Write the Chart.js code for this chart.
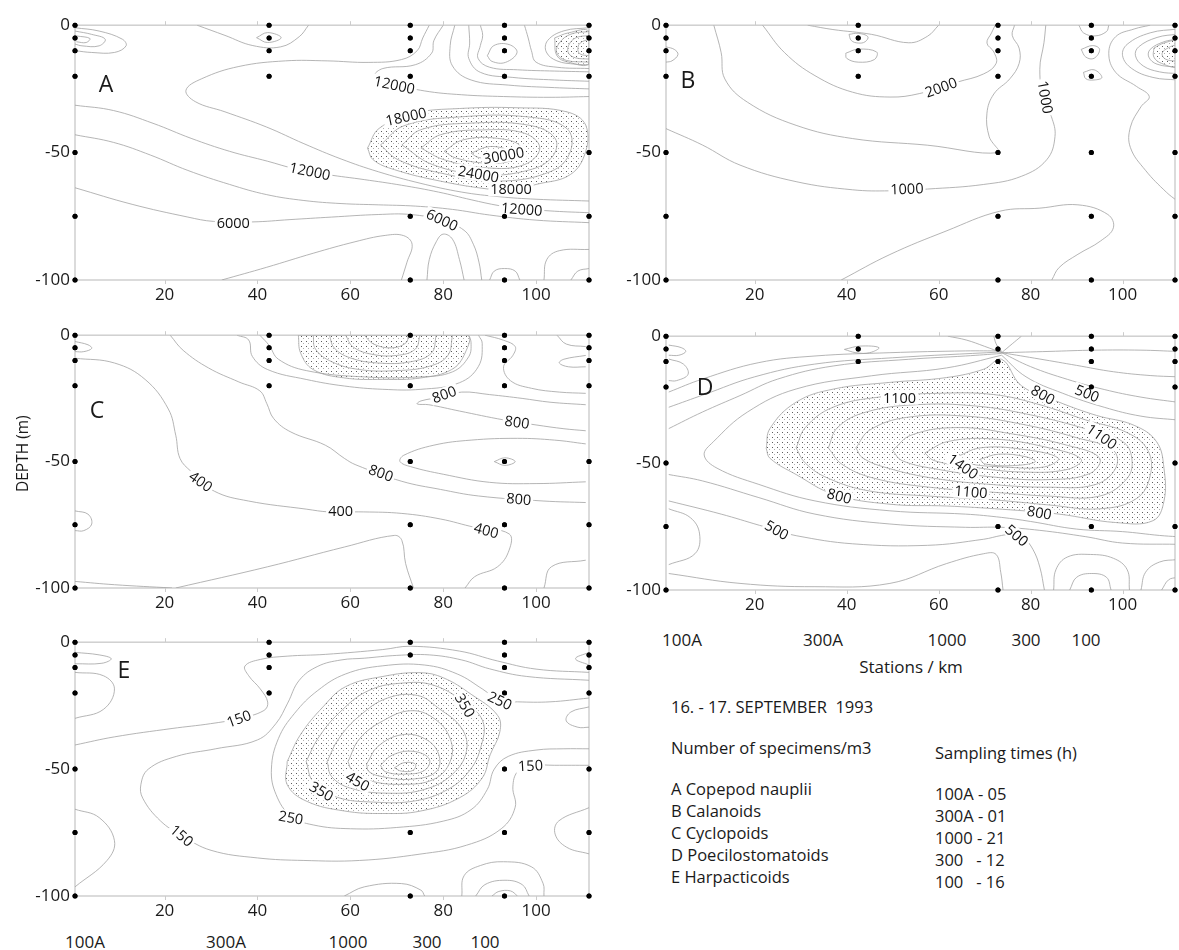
<!DOCTYPE html>
<html>
<head>
<meta charset="utf-8">
<script src="https://cdn.jsdelivr.net/npm/chart.js@4.4.1/dist/chart.umd.min.js"></script>
<style>
  html, body { margin: 0; padding: 0; background: #fff; }
  body { width: 1179px; height: 950px; position: relative; overflow: hidden; font-family: 'Open Sans', sans-serif; color: #1a1a1a; }
  .panel { position: absolute; }
  .txt { position: absolute; font-size: 16px; line-height: 20px; white-space: pre; }
  .mid { transform: translateX(-50%); }
  .letter { position: absolute; font-size: 23px; line-height: 26px; transform: translate(-50%, -50%); }
</style>
</head>
<body>
<script>
// ---- axes / stations ----
const stations = [0.7, 42.5, 72.9, 93.2, 111.4];
const xTicks = [20, 40, 60, 80, 100];
const yTicks = [0, -50, -100];
const stationNames = ['100A', '300A', '1000', '300', '100'];
const taxa = ['A Copepod nauplii', 'B Calanoids', 'C Cyclopoids', 'D Poecilostomatoids', 'E Harpacticoids'];
const samplingTimes = ['100A - 05', '300A - 01', '1000 - 21', '300   - 12', '100   - 16'];

// sampled depths per station (m)
const samplesA = [[0,-5,-10,-20,-50,-75,-100],[0,-5,-10,-20],[0,-5,-10,-20,-75,-100],[0,-5,-10,-20,-75,-100],[0,-5,-10,-20,-50,-75,-100]];
const samplesB = [[0,-5,-10,-20,-50,-75,-100],[0,-5,-10,-20],[0,-5,-10,-20,-50,-75,-100],[0,-5,-10,-20,-50,-75,-100],[0,-5,-10,-20,-50,-75,-100]];
const samplesC = [[0,-5,-10,-20,-50,-75,-100],[0,-5,-10,-20],[0,-20,-50,-75,-100],[0,-5,-10,-20,-50,-75,-100],[0,-5,-10,-20,-50,-75,-100]];
const samplesD = [[0,-5,-10,-20,-50,-75,-100],[0,-5,-10],[0,-5,-10,-75,-100],[0,-5,-10,-20,-75,-100],[0,-5,-10,-20,-50,-75,-100]];
const samplesE = [[0,-5,-10,-20,-50,-75,-100],[0,-5,-10,-20],[0,-5,-75,-100],[0,-5,-10,-20,-50,-75,-100],[0,-5,-10,-20,-50,-75,-100]];

// ---- A Copepod nauplii ----
const contoursA = [
  [[0.7,-1],[5.9,-2.3],[10.9,-5.5],[11.7,-8.1],[9.2,-10.7],[4.3,-10.7],[0.7,-10]],
  [[0.7,-2.3],[4.3,-3.6],[7.2,-5.5],[5.9,-8.1],[2.2,-8.1],[0.7,-7.4]],
  [[1,-4.2],[3.9,-5.2],[3.1,-6.8],[1,-6.5]],
  [[27,0],[33,-4],[39,-8],[45,-8.5],[49,-4.5],[51,0]],
  [[39.8,-4.9],[42.2,-2.9],[45.1,-4.9],[42.2,-6.8],[39.8,-4.9]],
  [[77,0],[75.6,-5],[74.4,-10],[71,-13.5],[64,-14.6],[55,-14],[46,-14],[36,-16.2],[28,-21],[24.6,-25.5],[26.6,-30],[33,-34],[42,-40],[50,-46.5],[58,-52.5],[66,-57.5],[75,-62],[84,-65.5],[92,-67.3],[100,-68.3],[111.4,-69]],
  [[80,0],[78,-6],[77.5,-11],[74,-15.5],[67,-17],[65.3,-19.8],[69.5,-23],[76,-25.8],[84,-27.3],[93,-28],[103,-28.3],[111.4,-28]],
  [[82.5,0],[81.5,-8],[82,-16],[86,-21.5],[94,-23.5],[104,-24.5],[111.4,-25]],
  [[85.5,0],[85.7,-7],[85.5,-13],[88,-18.5],[95,-20.5],[104,-21.5],[111.4,-22]],
  [[88,0],[88.5,-4],[88,-8],[87.5,-13],[90,-16.5],[96,-17.5],[104,-18],[111.4,-18.3]],
  [[89.5,-12],[90.9,-8],[94.2,-7.6],[95.9,-10.7],[93.4,-14.6],[90.5,-14.2],[89.5,-12]],
  [[97.5,0],[98.3,-5],[99,-10],[100,-14.5],[104.5,-16.5],[111.4,-17]],
  [[111.4,-1],[106,-2.2],[102.5,-6],[102.2,-10.5],[104.5,-14],[108.5,-15.3],[111.4,-15.5]],
  [[111.4,-2.5],[107.5,-3.5],[105,-7],[104.5,-11],[106.5,-13.8],[111.4,-14.5]],
  [[111.4,-4],[108.5,-5],[107,-8],[107,-11],[108.5,-12.8],[111.4,-13.3]],
  [[111.4,-5.5],[109.5,-7],[109,-9.5],[109.5,-11.3],[111.4,-12]],
  [[0.7,-31.4],[9,-33.5],[17.5,-38.5],[25.7,-44.4],[34,-49.5],[42.2,-53.4],[48,-56.3],[55,-58.6],[63,-60.6],[71,-62.8],[79,-65.5],[86,-68.5],[92,-70.8],[97,-72],[104,-73],[111.4,-73.6]],
  [[0.7,-43],[9,-46],[17,-51],[25,-57],[34,-62.5],[42,-66.5],[50,-68.8],[58,-70],[66,-70.5],[74,-71],[82,-72.3],[90,-74.5],[100,-76.5],[111.4,-77.5]],
  [[0.7,-63.8],[13,-70.3],[25,-75.3],[30.5,-77],[39,-77.2],[47,-76.3],[56,-75.3],[66,-74.3],[73,-74.3],[79.8,-76.6],[84.5,-80.5],[86.5,-86],[87.7,-93],[88.3,-100]],
  [[32.3,-100],[42,-95],[52,-89.5],[61,-85],[67.5,-82.5],[71.5,-82.6],[73.3,-86],[72.2,-93],[71,-100]],
  [[76.5,-100],[77,-92],[78.5,-85],[80,-82],[82,-84],[83.5,-92],[84.5,-100]],
  [[90,-100],[91,-96.5],[93.2,-95.5],[95.5,-96.5],[96.5,-100]],
  [[101.7,-100],[102.3,-92],[105,-88.5],[111.4,-88]],
  [[107.5,-100],[109,-96.5],[111.4,-95.5]],
  [[66.5,-47],[71.5,-39.5],[83.5,-36],[98.3,-36],[106.6,-40.5],[107.4,-49.5],[103.3,-57.3],[91.7,-61.2],[79.4,-58],[70.3,-52.8],[66.5,-47]],
  [[71.1,-47],[75.2,-41],[85.1,-38.5],[98.3,-39.2],[104.1,-44.4],[103.3,-52.1],[97.5,-57.3],[88.4,-58.6],[77.7,-54.7],[71.1,-47]],
  [[75.2,-48.2],[79.4,-43],[88.4,-41.1],[97.5,-42.4],[100.8,-48.2],[97.5,-54.7],[89.3,-56],[80.2,-52.8],[75.2,-48.2]],
  [[80.2,-49.5],[84.3,-45],[91.7,-44.4],[96.7,-47.6],[95,-52.8],[89.3,-54.1],[82.7,-52.1],[80.2,-49.5]],
  [[86,-50.2],[90.1,-47.6],[94.2,-49.5],[91.7,-52.1],[87.6,-51.9],[86,-50.2]]
];
const shadedA = [
  [[63.7,-48.2],[66.2,-40.5],[73.6,-34.6],[83.5,-32.7],[95.9,-32.4],[106.6,-34],[110.7,-39.2],[110.7,-49.5],[107.4,-58.6],[100,-62.5],[94.6,-64.7],[90.1,-64.4],[79.4,-61.2],[69.5,-56.7],[64.9,-52.8],[63.7,-48.2]],
  [[104,-5],[107,-3],[111.4,-2.5],[111.4,-15],[107,-14.5],[104.5,-12],[104,-5]]
];
const labelsA = [
  ['12000', 69.5, -23.4, 12], ['18000', 72, -35.9, -12], ['12000', 51.3, -57.3, 12],
  ['30000', 93, -51.1, -10], ['24000', 87.6, -58.4, 10], ['18000', 94.6, -64.4, 0],
  ['12000', 96.9, -72.2, 4], ['6000', 34.8, -77.4, 0], ['6000', 79.8, -76.4, 25]
];

// ---- B Calanoids ----
const contoursB = [
  [[0.7,-40.6],[8.6,-47],[16.8,-54.9],[29,-61.4],[41.3,-64.6],[49.4,-65],[57.6,-64.3],[69.8,-62.5],[78,-59.3],[83.5,-52.8],[85.3,-43.7],[84.5,-35.8],[82.9,-30.6],[82,-17.3],[82.9,-6.9],[83.3,0]],
  [[11.1,0],[12.7,-10.8],[13.5,-21.1],[18.4,-30.2],[29,-39.3],[41.3,-44.5],[57.6,-47.1],[72.9,-50],[71,-43.8],[70.5,-34.5],[72,-27],[75.5,-21],[77.5,-15],[77.5,-9],[76,-4],[76.5,0]],
  [[21.7,0],[26.5,-10.8],[33.1,-19.8],[41.3,-26.3],[49.4,-28.2],[55.9,-26.8],[64.1,-22.3],[69.8,-19.1],[72.5,-15],[72,-10.5],[70.5,-7],[71.5,-3],[72.3,0]],
  [[31.5,0],[37,-1.7],[45.4,-3.6],[53.5,-6.9],[57.6,-4.3],[60,0]],
  [[40.5,-3.6],[42.5,-3.2],[44.6,-4.5],[44,-6.5],[42.5,-7],[41,-6],[40.5,-3.6]],
  [[39.8,-11],[42.5,-9.4],[46.5,-10.5],[46,-13.5],[42.5,-14.5],[40,-13],[39.8,-11]],
  [[0.7,-8.5],[2.5,-9.5],[3.3,-11.5],[2,-14],[0.7,-14.5]],
  [[38.8,-100],[49.4,-90],[61.6,-80.8],[73.3,-73],[82,-71.8],[90.3,-70.5],[96.8,-74.3],[98,-79.5],[95.2,-84.7],[90.3,-89.9],[86.2,-95.1],[84.6,-100]],
  [[111.9,-69],[109.5,-65.5],[105,-57],[101.7,-48],[101.7,-40],[104,-32],[105.8,-28],[103,-24],[98.5,-18.5],[97,-11],[98.5,-4.5],[102.5,-1.5],[106,0]],
  [[111.9,-1.5],[106,-3],[101,-7.5],[100,-12],[102,-17],[106.6,-20.5],[111.9,-21.5]],
  [[111.9,-3.5],[107.5,-4.8],[103.5,-8.5],[102.8,-12],[104.5,-16],[108,-18.3],[111.9,-19]],
  [[111.9,-5.5],[109,-6.5],[106,-9.5],[105.7,-12.5],[107.5,-15.3],[111.9,-16.5]],
  [[111.9,-7.5],[110,-8.8],[108.6,-11],[109.3,-13.3],[111.9,-14.2]],
  [[90.5,0],[91.5,-3],[94,-4.2],[96.5,-2.5],[97,0]],
  [[91,-9.5],[93.5,-8],[95,-9.5],[93.8,-13],[92,-12.5],[91,-9.5]],
  [[91.5,-18.5],[93.8,-17.5],[95.5,-20.5],[93.8,-21.5],[92,-21],[91.5,-18.5]]
];
const shadedB = [
  [[106.8,-9],[109,-7],[111.9,-6.5],[111.9,-16],[108.5,-15],[106.8,-12.5],[106.8,-9]]
];
const labelsB = [
  ['2000', 60.5, -24.4, -20], ['1000', 53.1, -64.2, -2], ['1000', 83.2, -28.3, 80]
];

// ---- C Cyclopoids ----
const contoursC = [
  [[0.7,-9.1],[9.2,-11],[15.8,-17.5],[20.8,-29.2],[22.4,-39.6],[23.3,-48.7],[25.7,-53.9],[30.7,-61.7],[38.1,-65.6],[50.5,-68.8],[55.4,-69.9],[62.9,-69.9],[71.1,-70.5],[79.4,-72.7],[86.8,-76],[94.2,-78.6],[94.2,-85],[91.7,-91.6],[86.8,-95.5],[84.7,-100]],
  [[21.2,0],[24,-6],[29.5,-13],[36,-18.5],[40.5,-22],[42,-27],[43.5,-33],[47.2,-38.3],[54.6,-43.5],[58.7,-48.7],[61.2,-51.3],[71.1,-57.8],[79.4,-61],[87.6,-63.6],[101.7,-65.6],[110.7,-66.2]],
  [[35.6,0],[38.1,-1.9],[38.9,-8.4],[42.2,-13.6],[50.5,-17.5],[58.7,-20.1],[67,-21.4],[75.2,-21.4],[83.5,-18.8],[87.6,-12.3],[88.4,-3.2],[87.6,0]],
  [[40.5,0],[42.5,-4],[44.5,-9.5],[50.5,-14],[63,-16.5],[75,-16.5],[82,-14.5],[85.5,-8.5],[86,-3],[85.5,0]],
  [[52,0],[52.5,-5.5],[56,-10.5],[62,-13.6],[70,-14],[77,-12.3],[81,-8],[82,0]],
  [[55.5,0],[56.5,-5],[60,-9],[66,-11],[73,-10.5],[77.5,-7],[78.5,0]],
  [[59,0],[60.5,-4.5],[64.5,-7.5],[70,-8],[74,-5.5],[75,0]],
  [[63,0],[65,-3.5],[69,-5],[72,-3],[72.5,0]],
  [[89,0],[93,-2],[95.5,-4.5],[95,-8],[93,-12.5],[94.5,-18],[99,-21],[105,-22.5],[110.7,-23]],
  [[110.7,-27.5],[103,-26.5],[97,-25],[90,-23.5],[84,-22.5],[79.4,-24.5],[75.2,-26],[74.4,-27.2],[76.9,-27.5],[83.5,-30],[93,-33.5],[100,-35.5],[106,-37],[110.7,-37.8]],
  [[110.7,-43],[104,-41.5],[96,-40.8],[86,-41.5],[78,-43.5],[71.5,-47.5],[70.7,-50],[73,-52],[80,-55],[90,-58.2],[100,-58.7],[110.7,-58]],
  [[91,-50],[93.3,-48.5],[95.5,-50],[93.3,-51.5],[91,-50]],
  [[0.7,-97.4],[9.2,-98.7],[21.6,-100]],
  [[22.4,-100],[42.2,-91.6],[58.7,-83.8],[69.5,-79.2],[71.1,-81.2],[71.9,-90.3],[73.6,-100]],
  [[101.7,-100],[103.3,-91.6],[110.7,-89]],
  [[0.7,-69.5],[3.5,-70.8],[4.3,-74.7],[2.6,-77.3],[0.7,-77.3]],
  [[0.7,-2.5],[3.5,-3.8],[4.3,-5.2],[2.6,-6.5],[0.7,-6.5]],
  [[104.5,0],[106.5,-3.5],[110.7,-4.5]],
  [[110.7,-8],[106,-9.5],[105,-11],[107,-12.5],[110.7,-12.5]]
];
const shadedC = [
  [[48.8,0],[49.3,-7.1],[52,-13.6],[58.7,-16.9],[67,-17.5],[75.2,-16.9],[81.8,-13.6],[84.7,-7.1],[85.1,0],[48.8,0]]
];
const labelsC = [
  ['400', 27.8, -57.8, 35], ['400', 57.9, -69.4, 0], ['400', 89.3, -77.2, 15],
  ['800', 80.2, -23.4, -20], ['800', 95.9, -34.4, 8], ['800', 66.6, -54.5, 20], ['800', 96.3, -64.8, 5]
];

// ---- D Poecilostomatoids ----
const contoursD = [
  [[29,-44],[31,-36],[37,-28],[47,-24],[60,-22.5],[72,-23],[82,-27],[92,-33],[101,-38],[105.5,-45],[106,-55],[103,-64],[95,-68],[84,-66.5],[72,-64.5],[58,-63],[45,-61],[36,-56],[31,-50],[29,-44]],
  [[36,-44],[38,-36],[44,-30],[55,-27],[68,-27.5],[80,-31],[92,-36.5],[100,-41.5],[102,-48],[101,-56],[95,-63],[84,-63],[72,-61.5],[58,-59.5],[46,-56],[39,-50.5],[36,-44]],
  [[42,-44],[45,-37],[53,-32],[66,-31.5],[79,-35],[90,-40],[98,-45],[98.5,-52],[94,-58.5],[84,-59.5],[72,-58.5],[59,-56],[49,-52],[43.5,-48],[42,-44]],
  [[50,-45],[54,-39],[64,-36],[76,-38.5],[88,-43],[95,-48],[93,-54],[84,-56.5],[72,-55.5],[60,-52.5],[52,-49],[50,-45]],
  [[57,-46],[62,-41.5],[72,-40.5],[84,-44],[91,-48.5],[88,-52.5],[78,-53.5],[67,-51.5],[59,-49],[57,-46]],
  [[64,-47.5],[69,-44],[78,-44.5],[86,-48],[83,-51.5],[74,-51.5],[66,-50],[64,-47.5]],
  [[69,-48.5],[73,-46.5],[79,-47.5],[81,-49.5],[76,-51],[70,-50.3],[69,-48.5]],
  [[73.7,-7.5],[61.7,-12.5],[45.4,-15.6],[29,-20.8],[18.4,-29.9],[11,-41.6],[9,-46.8],[11.8,-52],[20.9,-58.4],[33.1,-64.9],[49.4,-68.8],[65.8,-70.1],[73.7,-71.4],[80,-73],[90,-76],[100,-77],[108,-78.5],[111.9,-79]],
  [[1.3,-36.4],[8.6,-29.9],[16.8,-23.4],[25,-16.9],[37.2,-11.7],[53.5,-9.1],[65.8,-7.8],[73.7,-6.8]],
  [[1.3,-28],[9,-23],[20,-16],[33,-11],[50,-8.5],[73.7,-6.2]],
  [[1.3,-22],[8.6,-16.9],[20.9,-10.4],[33.1,-7.8],[49.4,-6.5],[65.8,-5.8],[73.7,-5.8]],
  [[1.3,-54.5],[8.6,-57],[20.9,-63.6],[33.1,-70.1],[49.4,-74],[65.8,-75.3],[73.7,-75.3],[82,-76.5],[92,-79],[100,-81.5],[111.9,-82]],
  [[1.3,-64.9],[12.7,-70.1],[21,-74.5],[24.8,-76.4],[29,-78.6],[41.3,-81.8],[57.6,-82.4],[69.8,-80],[73.7,-78.5],[76.5,-78],[78.5,-79.5],[80.5,-84],[82,-91],[83,-100]],
  [[1.3,-68],[6,-71.5],[8,-77.9],[7,-85.7],[1.3,-90]],
  [[1.3,-93.5],[16.8,-97.4],[33.1,-98.7],[49.4,-97.4],[61.7,-89.6],[69.8,-85.7],[72.5,-86],[73.5,-93],[74,-100]],
  [[85,-100],[85.5,-92],[88,-87],[93,-86],[98,-87.5],[101,-92],[101.5,-100]],
  [[88.5,-100],[90,-95],[93.3,-93.5],[96.5,-95],[97.5,-100]],
  [[104,-100],[105,-93],[108,-89],[111.9,-88]],
  [[108.5,-100],[110,-96],[111.9,-95]],
  [[73.7,-6.5],[80,-12],[88,-17],[96,-21],[104,-24],[111.9,-26]],
  [[73.7,-6.5],[82,-9],[90,-11.5],[98,-14],[106,-15.5],[111.9,-16]],
  [[73.7,-6.5],[84,-6],[94,-5.5],[104,-5.5],[111.9,-6]],
  [[73.7,-7.5],[79,-16],[87,-22.5],[96,-28],[104,-31.5],[111.9,-33]],
  [[73.7,-6.5],[70,-4],[66,-1.5],[62,0]],
  [[73.7,-6.5],[72.5,-3],[72,0]],
  [[73.7,-6.5],[76,-3],[78,0]],
  [[39.5,-5.2],[42.9,-3.9],[47,-4.5],[45,-6.5],[42,-6.5],[39.5,-5.2]],
  [[1.3,-3.5],[4,-4.5],[5,-6],[3.5,-7.5],[1.3,-7.5]],
  [[1.3,-9],[4.5,-11],[5.5,-15],[3,-17.5],[1.3,-17.5]]
];
const shadedD = [
  [[22.5,-44.2],[23.3,-36.4],[29,-26],[37.2,-20.8],[49.4,-18.2],[61.7,-16.3],[69.8,-13],[73.7,-9.1],[78,-19.5],[86.2,-26],[94.3,-31.2],[102.5,-35.1],[107.4,-41.6],[109,-52],[109,-65],[106.6,-72.7],[98.4,-73.4],[86.2,-70.1],[73.9,-68.2],[61.7,-66.9],[49.4,-66.2],[37.2,-62.3],[29,-54.5],[23.3,-48.1],[22.5,-44.2]]
];
const labelsD = [
  ['1100', 51.5, -24.2, 0], ['1400', 65.3, -51.3, 35], ['1100', 67, -61.3, 5], ['800', 38.4, -63, 15],
  ['800', 81.9, -69.5, 10], ['1100', 95.5, -39.5, 35], ['800', 82.7, -23.1, 30], ['500', 92.3, -22.5, 22],
  ['500', 24.8, -76.4, 30], ['500', 77, -78.5, 40]
];

// ---- E Harpacticoids ----
const contoursE = [
  [[50.5,-47],[53,-38],[57.5,-28],[64,-19],[72,-16],[78,-17],[84,-23],[88.5,-31],[88,-42],[85.5,-51],[81,-58],[74,-62.5],[65,-63],[57,-61],[52,-55],[50.5,-47]],
  [[55,-47],[57.5,-38],[62,-29],[68,-22],[74.5,-21],[79,-26],[84,-34],[85,-43],[82,-52],[76,-58],[68,-59.5],[60,-57.5],[56,-53],[55,-47]],
  [[59.5,-47],[62,-38],[67,-31],[73,-27],[78,-30],[81.5,-38],[81.5,-47],[78,-54],[71,-56],[64,-54.5],[60.5,-51],[59.5,-47]],
  [[63.5,-48],[66,-41],[71,-36.5],[76,-38],[79,-44],[78.5,-51],[73,-54],[67,-53],[64,-51],[63.5,-48]],
  [[66.5,-48.5],[69,-44.5],[73.5,-43],[77,-46],[76,-50.5],[71.5,-52],[67.5,-51],[66.5,-48.5]],
  [[69.5,-49.5],[71.5,-47.5],[74,-48],[73.5,-50.5],[71,-50.8],[69.5,-49.5]],
  [[111.4,-22],[103,-23.5],[96,-23.5],[92.2,-23],[88.5,-18.5],[83,-12.5],[76,-9],[67,-9.3],[59,-12.5],[53,-19],[48,-28],[44.5,-38],[43,-50],[44,-60],[47.2,-68.5],[52,-72],[60,-73.5],[70,-73],[80,-70.5],[86,-66],[89.5,-58],[91,-50],[94,-45],[100,-42.5],[106,-42],[111.4,-42]],
  [[0.7,-40.5],[9.2,-37.3],[21.6,-34],[29.9,-32.1],[36,-30.1],[41.4,-26.9],[42.2,-23.6],[40.6,-18.4],[38.1,-13.2],[37.3,-9.4],[40.6,-6.8],[46.4,-5.5],[54.6,-4.8],[67,-2.9],[72.9,-1.6],[83.5,-3.5],[91.7,-7.4],[100,-10.6],[111.4,-11.9]],
  [[111.4,-48.5],[104,-48.5],[98.8,-48.6],[96,-51],[95,-57],[95.5,-65],[92.5,-73.5],[85,-80],[75,-83.5],[62,-86],[50,-86],[40,-85],[30,-82],[23.7,-76.2],[19.1,-70.4],[15.3,-61.5],[14.9,-56],[16.5,-50],[22.5,-45],[31,-42],[40,-38.5],[44,-32],[46.5,-24],[49,-15],[53,-9.5],[58,-7],[63,-6.3],[70,-5.2],[77,-5],[84,-7],[90,-10.5],[98,-13.5],[111.4,-15]],
  [[0.7,-4],[5.9,-5],[8.5,-6.5],[6.5,-8.3],[0.7,-8.5]],
  [[0.7,-30],[6.8,-26.5],[9.2,-18.4],[6.8,-13.2],[0.7,-11.9]],
  [[0.7,-65.8],[5.9,-69.1],[9.2,-78.2],[7.6,-86],[0.7,-96.4]],
  [[58.7,-100],[63,-96.4],[71,-95.1],[75.2,-97.7],[76,-100]],
  [[84,-100],[84.5,-92],[88,-88],[93,-86.5],[99,-88.5],[101.5,-95],[101.7,-100]],
  [[87,-100],[89,-95.5],[93.3,-93.8],[97,-95.5],[98.5,-100]],
  [[90.5,-100],[92,-98.2],[94.5,-98],[96,-100]],
  [[111.4,-65.2],[104.9,-70.4],[104.1,-75.6],[106.6,-80.8],[111.4,-83.4]],
  [[111.4,-4],[108.5,-6.5],[111.4,-9]],
  [[111.4,-25.5],[107.5,-27.5],[106.5,-31],[109,-33.5],[111.4,-33.5]]
];
const shadedE = [
  [[46.4,-47],[49.2,-36.6],[54.1,-25.5],[59,-17.5],[67,-13.5],[75,-12],[80,-14],[86,-20.5],[91.7,-28.8],[92.2,-35.3],[90.1,-44.4],[88.4,-53.5],[83.5,-61.3],[75.2,-66.5],[67,-67.5],[58.7,-66.5],[50.5,-62.6],[46.4,-56.1],[46.4,-47]]
];
const labelsE = [
  ['150', 36, -30.1, -20], ['350', 84.7, -24.9, 60], ['250', 92.2, -23, 25], ['450', 61.6, -54.8, 30],
  ['350', 53.8, -58.7, 30], ['250', 47.2, -69.1, 10], ['150', 23.7, -76.2, 40], ['150', 98.8, -48.6, -3]
];

// ---- layout (plot area left, top, right, bottom in page px) ----
const panels = [
  { letter: 'A', contours: contoursA, shaded: shadedA, labels: labelsA, samples: samplesA, area: [75, 22, 589, 280], letterPos: [106, 83] },
  { letter: 'B', contours: contoursB, shaded: shadedB, labels: labelsB, samples: samplesB, area: [666, 22, 1178, 280], letterPos: [688, 79] },
  { letter: 'C', contours: contoursC, shaded: shadedC, labels: labelsC, samples: samplesC, area: [75, 332, 589, 588], letterPos: [97, 409] },
  { letter: 'D', contours: contoursD, shaded: shadedD, labels: labelsD, samples: samplesD, area: [666, 333, 1178, 590], letterPos: [705, 386] },
  { letter: 'E', contours: contoursE, shaded: shadedE, labels: labelsE, samples: samplesE, area: [75, 639, 589, 896], letterPos: [124, 669] }
];

Chart.defaults.font.family = "'Open Sans', sans-serif";
Chart.defaults.color = '#1a1a1a';

const lineColor = '#a2a2a2';

// stipple tile for the shaded (high) areas
const tile = document.createElement('canvas');
tile.width = 5; tile.height = 5;
(() => {
  const g = tile.getContext('2d');
  g.fillStyle = '#5c5c5c';
  g.fillRect(1, 1, 1, 1);
  g.fillStyle = '#b0b0b0';
  g.fillRect(3, 3, 1, 1);
})();

const toPts = arr => arr.map(([x, y]) => ({ x, y }));

function extrasPlugin(panel) {
  return {
    id: 'extras',
    beforeDatasetsDraw(chart) {
      const { ctx, chartArea: a, scales } = chart;
      ctx.save();
      ctx.beginPath();
      ctx.rect(a.left, a.top, a.width, a.height);
      ctx.clip();
      chart.data.datasets.forEach((ds, i) => {
        if (!ds.shaded) return;
        const meta = chart.getDatasetMeta(i);
        if (meta.dataset && meta.dataset.updateControlPoints) meta.dataset.updateControlPoints(a, 'x');
        const pts = meta.data;
        ctx.beginPath();
        pts.forEach((p, j) => {
          if (j === 0) { ctx.moveTo(p.x, p.y); return; }
          const q = pts[j - 1];
          if (q.cp2x !== undefined && p.cp1x !== undefined) ctx.bezierCurveTo(q.cp2x, q.cp2y, p.cp1x, p.cp1y, p.x, p.y);
          else ctx.lineTo(p.x, p.y);
        });
        ctx.closePath();
        ctx.fillStyle = ctx.createPattern(tile, 'repeat');
        ctx.fill();
      });
      ctx.restore();

      // frame and small outward ticks
      ctx.save();
      ctx.strokeStyle = '#cccccc';
      ctx.lineWidth = 1.4;
      ctx.strokeRect(a.left, a.top, a.width, a.height);
      ctx.lineWidth = 1;
      xTicks.forEach(v => {
        const px = Math.round(scales.x.getPixelForValue(v)) + 0.5;
        ctx.beginPath();
        ctx.moveTo(px, a.top); ctx.lineTo(px, a.top - 4);
        ctx.moveTo(px, a.bottom); ctx.lineTo(px, a.bottom + 4);
        ctx.stroke();
      });
      ctx.restore();
    },
    afterDatasetsDraw(chart) {
      const { ctx, scales } = chart;
      ctx.save();
      ctx.font = "14.5px 'Open Sans', sans-serif";
      ctx.textAlign = 'center';
      ctx.textBaseline = 'middle';
      panel.labels.forEach(([t, x, y, r]) => {
        const px = scales.x.getPixelForValue(x);
        const py = scales.y.getPixelForValue(y);
        const w = ctx.measureText(t).width;
        ctx.save();
        ctx.translate(px, py);
        ctx.rotate(r * Math.PI / 180);
        ctx.fillStyle = '#fff';
        ctx.fillRect(-w / 2 - 2, -7, w + 4, 14);
        ctx.fillStyle = '#111';
        ctx.fillText(t, 0, 1);
        ctx.restore();
      });
      // keep sampling dots on top of the labels
      const meta = chart.getDatasetMeta(0);
      ctx.fillStyle = '#000';
      meta.data.forEach(p => {
        ctx.beginPath();
        ctx.arc(p.x, p.y, 2.5, 0, Math.PI * 2);
        ctx.fill();
      });
      ctx.restore();
    }
  };
}

const root = document.body;

panels.forEach(panel => {
  const [L, T, R, B] = panel.area;
  const padR = R >= 1170 ? 1 : 6;
  const box = document.createElement('div');
  box.className = 'panel';
  box.style.left = (L - 50) + 'px';
  box.style.top = (T - 12) + 'px';
  box.style.width = (R - L + 50 + padR) + 'px';
  box.style.height = (B - T + 12 + 30) + 'px';
  const canvas = document.createElement('canvas');
  box.appendChild(canvas);
  root.appendChild(box);

  const samplePts = [];
  panel.samples.forEach((depths, i) => depths.forEach(d => samplePts.push({ x: stations[i], y: d })));

  const datasets = [{
    data: samplePts,
    showLine: false,
    pointRadius: 2.5,
    pointBackgroundColor: '#000',
    pointBorderWidth: 0,
    clip: false
  }];
  panel.shaded.forEach(poly => datasets.push({
    data: toPts(poly), shaded: true, borderColor: lineColor, borderWidth: 0.8,
    pointRadius: 0, tension: 0.4, fill: false
  }));
  panel.contours.forEach(line => datasets.push({
    data: toPts(line), borderColor: lineColor, borderWidth: 0.8,
    pointRadius: 0, tension: 0.4, fill: false
  }));

  new Chart(canvas, {
    type: 'line',
    data: { datasets },
    options: {
      responsive: true,
      maintainAspectRatio: false,
      animation: false,
      events: [],
      layout: { padding: { left: 0, top: 12, right: padR, bottom: 0 } },
      plugins: { legend: { display: false }, tooltip: { enabled: false } },
      scales: {
        x: {
          type: 'linear', min: 0.7, max: 111.4,
          grid: { display: false, drawTicks: false },
          border: { display: false },
          afterBuildTicks: s => { s.ticks = xTicks.map(v => ({ value: v })); },
          afterFit: s => { s.height = 30; },
          ticks: { font: { size: 17 }, padding: 5, maxRotation: 0, callback: v => String(v) }
        },
        y: {
          type: 'linear', min: -100, max: 0,
          grid: { display: false, drawTicks: false },
          border: { display: false },
          afterBuildTicks: s => { s.ticks = yTicks.map(v => ({ value: v })); },
          afterFit: s => { s.width = 50; },
          ticks: { font: { size: 17 }, padding: 5, callback: v => String(v) }
        }
      }
    },
    plugins: [extrasPlugin(panel)]
  });

  const letter = document.createElement('div');
  letter.className = 'letter';
  letter.textContent = panel.letter;
  letter.style.left = panel.letterPos[0] + 'px';
  letter.style.top = panel.letterPos[1] + 'px';
  root.appendChild(letter);
});

function addText(text, x, yCenter, centered, size) {
  const d = document.createElement('div');
  d.className = 'txt' + (centered ? ' mid' : '');
  d.textContent = text;
  d.style.left = x + 'px';
  d.style.top = (yCenter - 10) + 'px';
  if (size) d.style.fontSize = size + 'px';
  root.appendChild(d);
  return d;
}

// station names below panels D and E
const stationLabelXD = [682, 823, 947, 1026, 1086];
const stationLabelXE = [85, 226, 348, 427, 485];
stationNames.forEach((s, i) => {
  addText(s, stationLabelXD[i], 640, true, 17);
  addText(s, stationLabelXE[i], 942, true, 17);
});
addText('Stations / km', 911, 667, true, 17);

// depth axis title
const depth = addText('DEPTH (m)', 21, 450, false, 15.5);
depth.style.transformOrigin = '0 0';
depth.style.left = '12px';
depth.style.top = '492px';
depth.style.transform = 'rotate(-90deg)';

// legend block
addText('16. - 17. SEPTEMBER  1993', 671, 707, false, 16.5);
addText('Number of specimens/m3', 671, 748, false, 16.5);
addText('Sampling times (h)', 935, 753, false, 16.5);
taxa.forEach((t, i) => addText(t, 671, 789 + i * 22, false, 16.5));
samplingTimes.forEach((t, i) => addText(t, 935, 794 + i * 22, false, 16.5));
</script>
</body>
</html>
